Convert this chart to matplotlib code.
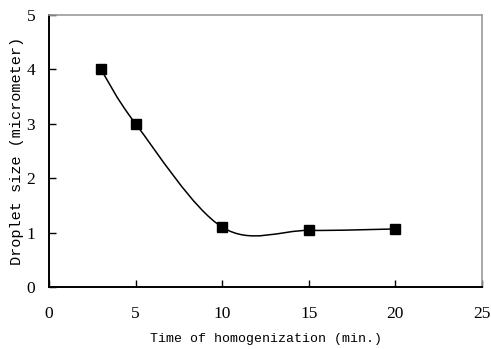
import matplotlib
matplotlib.use('Agg')
import matplotlib.pyplot as plt
from matplotlib.path import Path
from matplotlib.patches import PathPatch

# data
time_min = [3, 5, 10, 15, 20]
droplet_size = [4.0, 3.0, 1.1, 1.04, 1.067]

plt.rcParams['font.family'] = ['Liberation Mono', 'DejaVu Sans Mono']

fig = plt.figure(figsize=(4.91, 3.49), dpi=100)
ax = fig.add_axes([0.0998, 0.1777, 0.8819, 0.7793])

# Excel-like smoothed line: bezier segments through the points
pts = list(zip(time_min, droplet_size))
verts = [pts[0]]
codes = [Path.MOVETO]
n = len(pts)
for i in range(n - 1):
    p0 = pts[i - 1] if i > 0 else pts[i]
    p1 = pts[i]
    p2 = pts[i + 1]
    p3 = pts[i + 2] if i + 2 < n else pts[i + 1]
    c1 = (p1[0] + (p2[0] - p0[0]) / 6, p1[1] + (p2[1] - p0[1]) / 6)
    c2 = (p2[0] - (p3[0] - p1[0]) / 6, p2[1] - (p3[1] - p1[1]) / 6)
    verts += [c1, c2, p2]
    codes += [Path.CURVE4] * 3
ax.add_patch(PathPatch(Path(verts, codes), facecolor='none', edgecolor='black', lw=1.1))

ax.plot(time_min, droplet_size, linestyle='none', marker='s', markersize=6.7,
        color='black', zorder=3)

ax.set_xlim(0, 25)
ax.set_ylim(0, 5)
ax.set_xticks([0, 5, 10, 15, 20, 25])
ax.set_yticks([0, 1, 2, 3, 4, 5])
ax.tick_params(direction='in', length=5, width=1, labelsize=12.5)
ax.tick_params(axis='y', pad=10)
ax.tick_params(axis='x', pad=14)
for lbl in ax.get_xticklabels() + ax.get_yticklabels():
    lbl.set_family('Liberation Serif')

for s in ['left', 'bottom']:
    ax.spines[s].set_color('black')
    ax.spines[s].set_linewidth(1.4)
for s in ['top', 'right']:
    ax.spines[s].set_color('#999999')
    ax.spines[s].set_linewidth(1.2)

ax.set_xlabel('Time of homogenization (min.)', fontsize=9.5, va='center')
ax.set_ylabel('Droplet size (micrometer)', fontsize=11, va='center')
ax.xaxis.set_label_coords(0.5, -0.19)
ax.yaxis.set_label_coords(-0.074, 0.5)

fig.savefig('out.png', dpi=100)
